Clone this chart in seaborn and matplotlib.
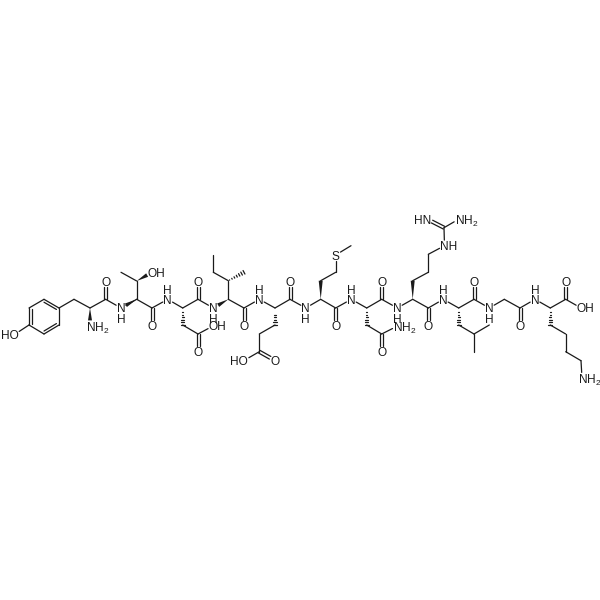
import numpy as np
import pandas as pd
import seaborn as sns
import matplotlib
matplotlib.use("Agg")
import matplotlib.pyplot as plt

sns.set_theme(style="white")
plt.rcParams['font.family'] = ['Liberation Sans', 'DejaVu Sans']
plt.rcParams['mathtext.default'] = 'regular'

# atom positions
atom_names = ["r1","r2","r3","r4","r5","r6","tO","tCb","tCa","tN","tC","tOc",
 "n2","thCa","thCb","thMe","thO","thC","thOc",
 "n3","dCa","dC","dOc","dCb","dCg","dO1","dO2",
 "n4","iCa","iCb","iCg","iCd","iMe","iC","iOc",
 "n5","eCa","eC","eOc","eCb","eCg","eCd","eO1","eO2",
 "n6","mCa","mCb","mCg","mS","mMe","mC","mOc",
 "n7","aCa","aC","aOc","aCb","aCg","aO","aN",
 "n8","rCa","rCb","rCg","rCd","rNe","rCz","rN1","rN2","rC","rOc",
 "n9","lCa","lC","lOc","lCb","lCg","lMe1","lMe2",
 "n10","gCa","gC","gOc",
 "n11","kCa","kC","kO1","kO2","kCb","kCg","kCd","kCe","kN"]
atom_x = [29,29,44,59,59,44,14.5,74,90,90,105.7,105.7,
 121,136.7,136.7,121,152,152,152,
 167.7,182.7,198,198,182.7,198,198,213,
 213.3,228.3,228.3,213.3,213.3,244,244,244,
 259.3,275,290,290,275,259.3,259.3,244,275,
 305.7,320.7,320.7,335.7,335.7,351,335.7,335.7,
 351.3,366.7,381.7,381.7,366.7,381.7,381.7,397.5,
 397.3,412.7,412.7,428.3,428.3,444.5,444,427,459,428.3,428.3,
 443.3,458.7,474,474,458.7,474,489.3,474,
 489.3,504.3,520,520,
 535,550.3,565.7,565.7,581,550.3,565.7,565.7,581,582]
atom_y = [325,308,299.3,308,325,334,334.5,299.3,308,326,299.3,281.7,
 308,299.3,281,272.3,272.3,308,326,
 299.3,308,299.3,281.7,325,334,351.7,326,
 308,299.3,280.7,272.3,255,272.3,308,326,
 299.3,308,299.3,281.7,325,334,351.7,360.5,360.5,
 308,299.3,280.7,272.3,255,245.7,308,326,
 299.3,308,299.3,281.7,325,334,351.7,326,
 308,299.3,280.7,272.3,254.3,245.7,227.7,219,219,308,326,
 299.3,308,299.3,281.7,325,334,325,351.7,
 308,299.3,308,326,
 299.3,308,299.3,281.7,308,325,334,351.7,360.7,378]

single_bonds = ["r1-r2","r2-r3","r3-r4","r4-r5","r5-r6","r6-r1","r1-tO","r4-tCb","tCb-tCa","tCa-tC","tC-n2",
 "n2-thCa" ,"thCa-thCb","thCb-thMe","thCa-thC","thC-n3","n3-dCa","dCa-dC","dC-n4","dCb-dCg","dCg-dO2",
 "iCa-iCb","iCb-iCg","iCg-iCd","iCa-iC","iC-n5","n5-eCa","eCa-eC","eC-n6","eCb-eCg","eCg-eCd","eCd-eO1",
 "n6-mCa","mCa-mC","mCb-mCg","mCg-mS","mS-mMe","mC-n7","n7-aCa","aCa-aC","aC-n8","aCb-aCg","aCg-aN",
 "n8-rCa","rCa-rC","rCb-rCg","rCg-rCd","rCd-rNe","rNe-rCz","rCz-rN2","rC-n9","n9-lCa","lCa-lC","lC-n10",
 "lCb-lCg","lCg-lMe1","lCg-lMe2","n10-gCa","gCa-gC","gC-n11","n11-kCa","kCa-kC","kC-kO2","kCb-kCg",
 "kCg-kCd","kCd-kCe","kCe-kN"]
double_bonds = ["tC-tOc","thC-thOc","dC-dOc","dCg-dO1","iC-iOc","eC-eOc","eCd-eO2","mC-mOc","aC-aOc","aCg-aO",
 "rCz-rN1","rC-rOc","lC-lOc","gC-gOc","kC-kO1"]
ring_doubles = ["r1-r2","r3-r4","r5-r6"]
wedge_bonds = ["tCa-tN","thCa-n2","thCb-thO","iCa-n4","mCa-mCb","rCa-rCb"]
hash_bonds = ["dCa-dCb","iCb-iMe","eCa-eCb","aCa-aCb","lCa-lCb","kCa-kCb"]

# label text, atom, anchor: c = centred, l = first letter on atom, r = last letter on atom
labels = [("HO","tO","r"),("NH$_2$","tN","l"),("O","tOc","c"),("N","n2","c"),("O","thOc","c"),("OH","thO","l"),
 ("N","n3","c"),("O","dOc","c"),("O","dO1","c"),("OH","dO2","l"),("N","n4","c"),("O","iOc","c"),
 ("N","n5","c"),("O","eOc","c"),("HO","eO1","r"),("O","eO2","c"),("N","n6","c"),("O","mOc","c"),("S","mS","c"),
 ("N","n7","c"),("O","aOc","c"),("O","aO","c"),("NH$_2$","aN","l"),("N","n8","c"),("O","rOc","c"),
 ("NH","rNe","l"),("HN","rN1","r"),("NH$_2$","rN2","l"),("N","n9","c"),("O","lOc","c"),
 ("N","n10","c"),("O","gOc","c"),("N","n11","c"),("O","kO1","c"),("OH","kO2","l"),("NH$_2$","kN","l")]
h_below = ["n2","n4","n6","n8","n10"]
h_above = ["n3","n5","n7","n9","n11"]

pos = {n: np.array([x, y], float) for n, x, y in zip(atom_names, atom_x, atom_y)}
labelled = {a for _, a, _ in labels}
GAP = 5.6
INK = "#1a1a1a"

def ends(bond):
    a, b = bond.split("-")
    p, q = pos[a].copy(), pos[b].copy()
    u = (q - p) / np.linalg.norm(q - p)
    if a in labelled: p = p + u * GAP
    if b in labelled: q = q - u * GAP
    return p, q, u

segments = []
def add(p, q):
    k = len(segments) // 2
    segments.append((k, p[0], p[1]))
    segments.append((k, q[0], q[1]))

for bd in single_bonds:
    p, q, u = ends(bd)
    add(p, q)
for bd in double_bonds:
    p, q, u = ends(bd)
    n = np.array([-u[1], u[0]])
    add(p + n * 1.5, q + n * 1.5)
    add(p - n * 1.5, q - n * 1.5)
centre = np.mean([pos[r] for r in ["r1","r2","r3","r4","r5","r6"]], axis=0)
for bd in ring_doubles:
    p, q, u = ends(bd)
    add(p + (centre - p) * 0.17, q + (centre - q) * 0.17)
for bd in hash_bonds:
    p, q, u = ends(bd)
    n = np.array([-u[1], u[0]])
    L = np.linalg.norm(q - p)
    for t in np.linspace(0.08, 1.0, 7):
        c = p + u * L * t
        add(c - n * 2.0 * t, c + n * 2.0 * t)

df = pd.DataFrame(segments, columns=["bond", "x", "y"])

fig = plt.figure(figsize=(6, 6), dpi=100)
ax = fig.add_axes([0, 0, 1, 1])
sns.lineplot(data=df, x="x", y="y", units="bond", estimator=None, sort=False,
             color=INK, linewidth=0.9, legend=False, ax=ax, solid_capstyle="round")
for bd in wedge_bonds:
    p, q, u = ends(bd)
    n = np.array([-u[1], u[0]])
    poly = np.array([p, q + n * 2.0, q - n * 2.0])
    ax.fill(poly[:, 0], poly[:, 1], color=INK, lw=0)

FS = 8.6
OFF = 4.2
for txt, a, mode in labels:
    x, y = pos[a]
    if mode == "c":
        ax.text(x, y, txt, ha="center", va="center_baseline", fontsize=FS, color=INK)
    elif mode == "l":
        ax.text(x - OFF, y, txt, ha="left", va="center_baseline", fontsize=FS, color=INK)
    else:
        ax.text(x + OFF, y, txt, ha="right", va="center_baseline", fontsize=FS, color=INK)
for a in h_below:
    ax.text(pos[a][0], pos[a][1] + 10.3, "H", ha="center", va="center_baseline", fontsize=FS, color=INK)
for a in h_above:
    ax.text(pos[a][0], pos[a][1] - 10.3, "H", ha="center", va="center_baseline", fontsize=FS, color=INK)

ax.set_xlim(0, 600)
ax.set_ylim(600, 0)
ax.axis("off")
fig.savefig("out.png", dpi=100, facecolor="white")
